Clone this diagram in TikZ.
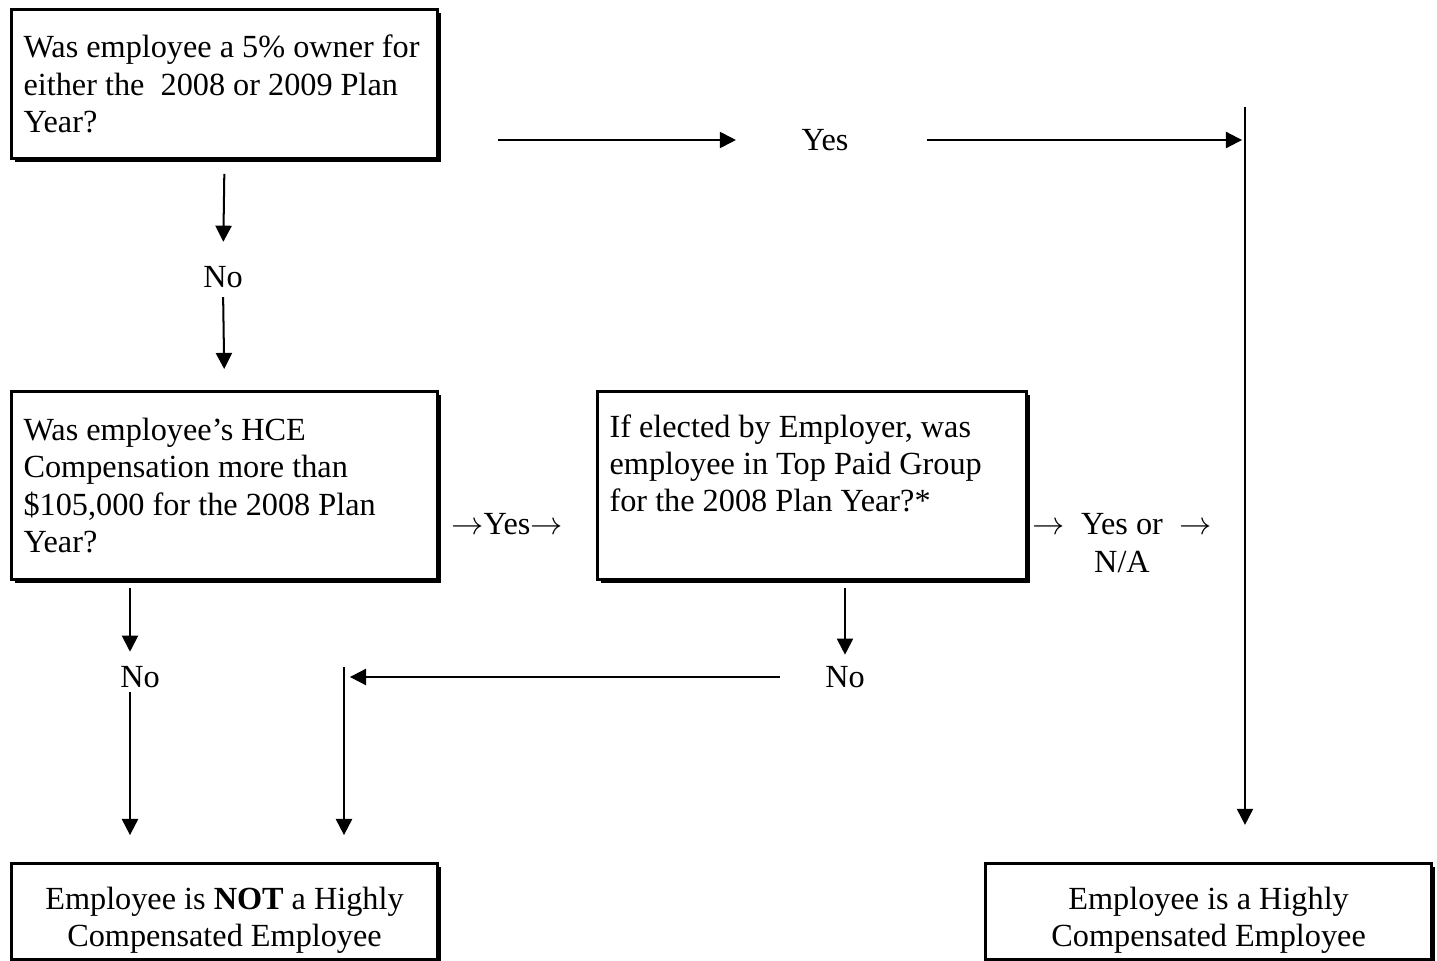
\documentclass[tikz,border=0pt]{standalone}
\usepackage{fontspec}
\setmainfont{Liberation Serif}
\usetikzlibrary{arrows.meta,shadows}

\tikzset{
	hcebox/.style = {draw, line width=1.1pt, fill=white, anchor=north west, inner xsep=4.5pt, inner ysep=0pt,
		drop shadow={shadow xshift=1.3pt, shadow yshift=-1.3pt, fill=black, opacity=1}},
	askbox/.style = {hcebox, align=flush left, minimum width=158.5pt, text width=149.5pt, minimum height=69.9pt},
	endbox/.style = {hcebox, align=flush center, minimum height=35.7pt, text height=14.9pt},
	lbl/.style = {inner sep=0pt, text height=8pt, text depth=0pt},
	flow/.style = {line width=0.75pt, -{Triangle[length=6pt, width=6pt]}},
}

\begin{document}
\begin{tikzpicture}[x=0.372pt, y=-0.372pt, font=\fontsize{12}{13.9}\selectfont]
		\useasboundingbox (0,0) rectangle (1437,961);
		% question boxes
		\node[askbox, minimum height=55.4pt] (own) at (10,8)
			{Was employee a 5\% owner for\\either the\ \ 2008 or 2009 Plan\\Year?};
		\node[askbox] (comp) at (10,390)
			{Was employee’s HCE\\Compensation more than\\\$105,000 for the 2008 Plan\\Year?};
		\node[askbox, minimum width=159.6pt, text width=150.6pt, text depth=44.3pt] (tpg) at (596,390)
			{If elected by Employer, was\\employee in Top Paid Group\\for the 2008 Plan Year?*};
		% result boxes
		\node[endbox, minimum width=158.5pt, text width=149.5pt] (notHCE) at (10,862)
			{Employee is \textbf{NOT} a Highly\\Compensated Employee};
		\node[endbox, minimum width=166pt, text width=157pt] (isHCE) at (984,862)
			{Employee is a Highly\\Compensated Employee};
		% answers
		\node[lbl] (noA) at (223,277) {No};
		\node[lbl] (yesTop) at (825,140) {Yes};
		\node[lbl] (yesMid) at (507,524) {$\rightarrow$Yes$\rightarrow$};
		\node[inner sep=0pt, align=flush center] (yesNA) at (1122,543) {$\rightarrow$\hspace{6pt}Yes or\hspace{6pt}$\rightarrow$\\N/A};
		\node[lbl] (noB) at (140,677) {No};
		\node[lbl] (noC) at (845,677) {No};
		\coordinate (rtop) at (1245,107);
		\coordinate (xl) at (130,0);
		\coordinate (mtop) at (344,667);
		% connectors
		\draw[flow, shorten <=5.2pt, shorten >=8.9pt] (own.south) -- (noA.north);
		\draw[flow, shorten <=3.3pt, shorten >=7.8pt] (noA.south) -- (comp.north);
		\draw[flow, shorten <=21.9pt, shorten >=24.2pt] (own.south east |- yesTop) -- (yesTop.west);
		\draw[flow, shorten <=29pt, shorten >=1.1pt] (yesTop.east) -- (rtop |- yesTop);
		\draw[line width=0.75pt] (rtop) -- (rtop |- yesTop);
		\draw[flow, shorten >=13.8pt] (rtop) -- (rtop |- isHCE.north);
		\draw[flow, shorten <=2.6pt, shorten >=5.2pt] (comp.south -| xl) -- (noB.north -| xl);
		\draw[flow, shorten <=1.5pt, shorten >=10pt] (noB.south -| xl) -- (notHCE.north -| xl);
		\draw[flow, shorten <=2.6pt, shorten >=4.1pt] (tpg.south -| noC) -- (noC.north);
		\draw[flow, shorten <=16.7pt, shorten >=2.2pt] (noC.west) -- (noC.west -| mtop);
		\draw[flow, shorten >=10pt] (mtop) -- (mtop |- notHCE.north);
	\end{tikzpicture}
\end{document}
